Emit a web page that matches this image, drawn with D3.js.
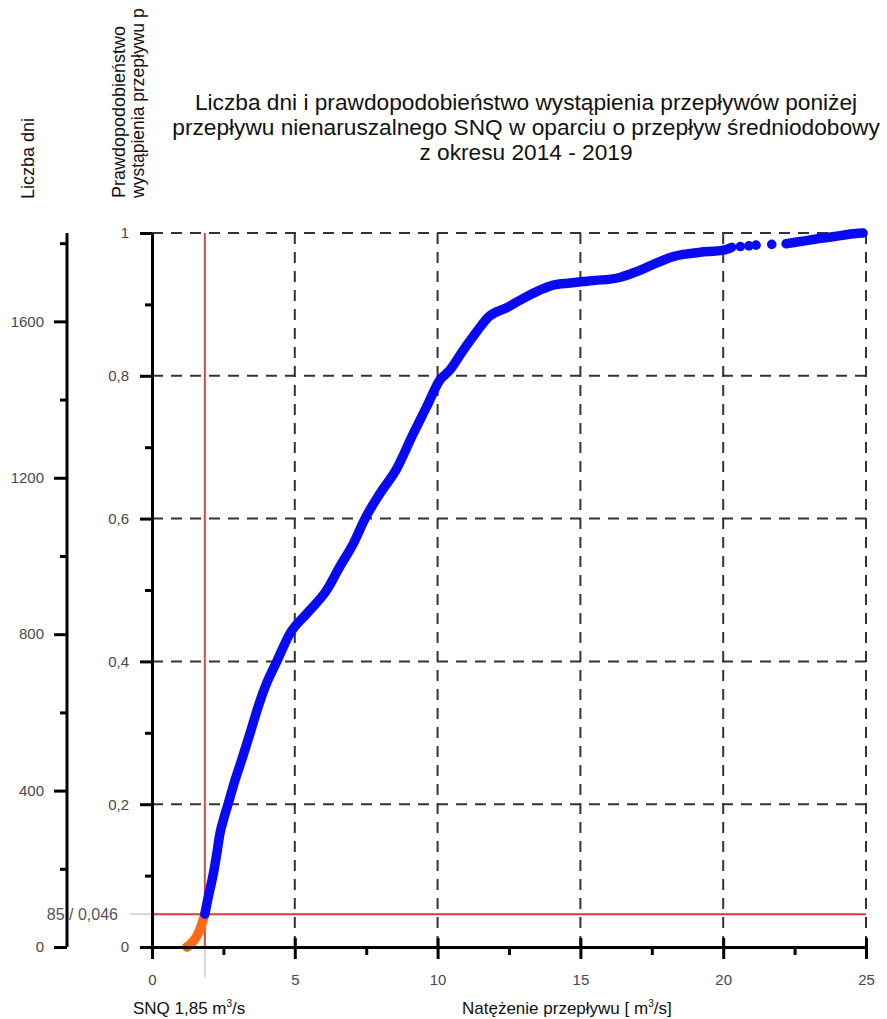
<!DOCTYPE html>
<html>
<head>
<meta charset="utf-8">
<script src="https://d3js.org/d3.v7.min.js"></script>
<style>
body { margin: 0; background: #fff; }
text { font-family: "Liberation Sans", Arial, sans-serif; }
.axis .tick text { fill: #484848; font-size: 15px; }
.axis path, .axis line { stroke: #000; stroke-width: 3; }
.grid { stroke: #333; stroke-width: 2; stroke-dasharray: 11,8; }
</style>
</head>
<body>
<svg width="887" height="1019"></svg>
<script>
const titleLines = [
  "Liczba dni i prawdopodobieństwo wystąpienia przepływów poniżej",
  "przepływu nienaruszalnego SNQ w oparciu o przepływ średniodobowy",
  "z okresu 2014 - 2019"
];
const flowTicks = [0, 5, 10, 15, 20, 25];
const flowMinor = [2.5, 7.5, 12.5, 17.5, 22.5];
const probTicks = [0, 0.2, 0.4, 0.6, 0.8, 1];
const probMinor = [0.1, 0.3, 0.5, 0.7, 0.9];
const dayTicks = [0, 400, 800, 1200, 1600];
const dayMinor = [200, 600, 1000, 1400, 1800];
const totalDays = 1826;
const snqFlow = 1.85;
const snqDays = 85;
const snqProb = 0.046;

// [flow m3/s, probability]
const belowSnq = [[1.22, 0.0], [1.40, 0.006], [1.58, 0.016], [1.70, 0.027], [1.78, 0.037], [1.85, 0.046]];
const aboveSnq = [
  [1.85, 0.046], [1.97, 0.070], [2.15, 0.103], [2.27, 0.131], [2.38, 0.159], [2.50, 0.178],
  [2.67, 0.201], [2.91, 0.234], [3.14, 0.262], [3.43, 0.299], [3.72, 0.337], [4.02, 0.370],
  [4.37, 0.400], [4.83, 0.439], [5.42, 0.467], [6.12, 0.500], [6.58, 0.533], [7.05, 0.565],
  [7.46, 0.600], [7.98, 0.635], [8.57, 0.670], [9.10, 0.715], [9.62, 0.757], [10.08, 0.794],
  [10.43, 0.808], [10.90, 0.836], [11.37, 0.862], [11.80, 0.883], [12.40, 0.895], [12.89, 0.906],
  [13.47, 0.918], [14.05, 0.927], [14.64, 0.930], [15.10, 0.932], [15.60, 0.934], [16.00, 0.935],
  [16.40, 0.938], [16.97, 0.946], [17.50, 0.955], [18.25, 0.967], [18.60, 0.970], [19.19, 0.973],
  [20.0, 0.976], [20.30, 0.980]
];
const tailDots = [[20.6, 0.981], [20.9, 0.982], [21.15, 0.983], [21.7, 0.984]];
const tailLine = [[22.2, 0.985], [22.7, 0.988], [23.3, 0.992], [23.9, 0.995], [24.35, 0.998], [24.9, 1.0]];

const svg = d3.select("svg");

const x = d3.scaleLinear().domain([0, 25]).range([152, 866]);
const p = d3.scaleLinear().domain([0, 1]).range([947, 233]);
const days = d3.scaleLinear().domain([0, totalDays]).range([947, 233]);

// title
svg.append("text")
  .attr("font-size", 22.7).attr("fill", "#111").attr("text-anchor", "middle")
  .selectAll("tspan").data(titleLines).join("tspan")
  .attr("x", 526)
  .attr("y", (d, i) => 110 + i * 25)
  .text(d => d);

// rotated axis titles
svg.append("text").attr("transform", "translate(34,199) rotate(-90)")
  .attr("font-size", 18).attr("fill", "#111").text("Liczba dni");
svg.append("text").attr("transform", "translate(125,198) rotate(-90)")
  .attr("font-size", 18).attr("fill", "#111").text("Prawdopodobieństwo");
svg.append("text").attr("transform", "translate(144,198) rotate(-90)")
  .attr("font-size", 17.5).attr("fill", "#111").text("wystąpienia przepływu p");

// dashed grid
svg.append("g").selectAll("line").data(flowTicks.slice(1)).join("line")
  .attr("class", "grid")
  .attr("x1", d => x(d)).attr("x2", d => x(d))
  .attr("y1", p(0)).attr("y2", p(1));
svg.append("g").selectAll("line").data(probTicks.slice(1)).join("line")
  .attr("class", "grid")
  .attr("x1", x(0)).attr("x2", x(25))
  .attr("y1", d => p(d)).attr("y2", d => p(d));

// SNQ guides
svg.append("line").attr("x1", x(snqFlow)).attr("x2", x(snqFlow))
  .attr("y1", p(0)).attr("y2", p(0) + 30).attr("stroke", "#ccc").attr("stroke-width", 1.5);
svg.append("line").attr("x1", x(0) - 22).attr("x2", x(0))
  .attr("y1", p(snqProb)).attr("y2", p(snqProb)).attr("stroke", "#ccc").attr("stroke-width", 1.5);
svg.append("line").attr("x1", x(snqFlow)).attr("x2", x(snqFlow))
  .attr("y1", p(1)).attr("y2", p(0)).attr("stroke", "#d24848").attr("stroke-width", 2);
svg.append("line").attr("x1", x(0)).attr("x2", x(25))
  .attr("y1", p(snqProb)).attr("y2", p(snqProb)).attr("stroke", "#e03838").attr("stroke-width", 2);

// curves
const line = d3.line().x(d => x(d[0])).y(d => p(d[1])).curve(d3.curveMonotoneX);
function curve(data, color) {
  svg.append("path").datum(data).attr("d", line)
    .attr("fill", "none").attr("stroke", color).attr("stroke-width", 9.5)
    .attr("stroke-linecap", "round").attr("stroke-linejoin", "round");
}
curve(belowSnq, "#ff6a10");
curve(aboveSnq, "#0a0af2");
curve(tailLine, "#0a0af2");
svg.append("g").selectAll("circle").data(tailDots).join("circle")
  .attr("cx", d => x(d[0])).attr("cy", d => p(d[1])).attr("r", 4.8).attr("fill", "#0a0af2");

// axes
const fmtComma = d => String(d).replace(".", ",");

const dayAxis = svg.append("g").attr("class", "axis").attr("transform", "translate(67,0)")
  .call(d3.axisLeft(days).tickValues(dayTicks).tickSize(13).tickPadding(10).tickSizeOuter(0).tickFormat(d3.format("d")));
dayAxis.select(".domain").attr("d", `M0,${p(0)}V${p(1)}`);
svg.append("g").attr("class", "axis").attr("transform", "translate(67,0)")
  .call(d3.axisLeft(days).tickValues(dayMinor).tickSize(7).tickFormat(""))
  .select(".domain").remove();

svg.append("g").attr("class", "axis").attr("transform", "translate(152,0)")
  .call(d3.axisLeft(p).tickValues(probTicks).tickSize(12).tickPadding(11).tickSizeOuter(0).tickFormat(fmtComma));
svg.append("g").attr("class", "axis").attr("transform", "translate(152,0)")
  .call(d3.axisLeft(p).tickValues(probMinor).tickSize(7).tickFormat(""))
  .select(".domain").remove();

const xAxis = svg.append("g").attr("class", "axis").attr("transform", `translate(0,${p(0)})`)
  .call(d3.axisBottom(x).tickValues(flowTicks).tickSize(12).tickPadding(15).tickSizeOuter(0));
xAxis.selectAll(".tick line").attr("y1", -9);
svg.append("g").attr("class", "axis").attr("transform", `translate(0,${p(0)})`)
  .call(d3.axisBottom(x).tickValues(flowMinor).tickSize(8).tickFormat(""))
  .select(".domain").remove();

// SNQ label on left axes
svg.append("text").attr("x", 118).attr("y", p(snqProb) + 6).attr("text-anchor", "end")
  .attr("font-size", 16).attr("fill", "#555").text(snqDays + " / " + fmtComma(snqProb));

// bottom labels
function unitLabel(xPos, prefix, suffix) {
  const t = svg.append("text").attr("x", xPos).attr("y", 1014).attr("font-size", 17).attr("fill", "#111");
  t.append("tspan").text(prefix + " m");
  t.append("tspan").attr("font-size", 10).attr("dy", -7).text("3");
  t.append("tspan").attr("dy", 7).text("/s" + suffix);
}
unitLabel(133, "SNQ " + fmtComma(snqFlow), "");
unitLabel(462, "Natężenie przepływu [", "]");
</script>
</body>
</html>
